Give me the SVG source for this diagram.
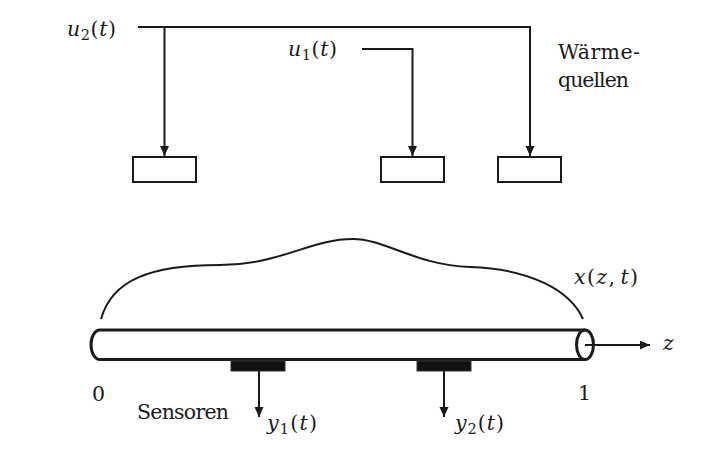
<svg xmlns="http://www.w3.org/2000/svg" width="722" height="452" viewBox="0 0 722 452">
<defs>
<marker id="ah" markerUnits="userSpaceOnUse" markerWidth="11" markerHeight="10" refX="10" refY="4.5" orient="auto">
<path d="M0,0 L10,4.5 L0,9 z" fill="#1a1a1a"/>
</marker>
<style>
.t{font-family:"DejaVu Serif","Liberation Serif",serif;font-size:20.5px;fill:#1a1a1a}
.i{font-style:italic}
.s{font-size:14.5px;font-style:normal}
.r{font-style:normal}
.ln{fill:none;stroke:#1a1a1a;stroke-width:2}
.box{fill:#fff;stroke:#1a1a1a;stroke-width:2}
.rod{fill:none;stroke:#1a1a1a;stroke-width:3}
.sen{fill:#111;stroke:#333;stroke-width:1}
</style>
</defs>
<rect width="722" height="452" fill="#fff"/>
<g id="connectors">
<path class="ln" d="M138,27 H530 V156" marker-end="url(#ah)"/>
<path class="ln" d="M164.5,27 V156" marker-end="url(#ah)"/>
<path class="ln" d="M362,49 H412.5 V156" marker-end="url(#ah)"/>
<path class="ln" d="M585,345 H650" marker-end="url(#ah)"/>
<path class="ln" d="M259,371 V417" marker-end="url(#ah)"/>
<path class="ln" d="M444,371 V417" marker-end="url(#ah)"/>
</g>
<g id="source1"><rect class="box" x="133" y="157" width="63" height="25"/></g>
<g id="source2"><rect class="box" x="381" y="157" width="63" height="25"/></g>
<g id="source3"><rect class="box" x="498" y="157" width="63" height="25"/></g>
<g id="profile">
<path class="ln" d="M101,319 C112,280 150,265 220,265 C280,265 310,239 353,239 C385,239 415,265 470,267 C530,269 570,290 583,319"/>
</g>
<g id="rod">
<path class="rod" d="M100,330 H585 M100,359.5 H585 M100,330 A9,14.75 0 0 0 100,359.5"/>
<ellipse class="rod" cx="585" cy="344.75" rx="8.5" ry="14.75"/>
</g>
<g id="sensor1"><rect class="sen" x="231" y="361" width="54" height="10"/></g>
<g id="sensor2"><rect class="sen" x="417" y="361" width="54" height="10"/></g>
<g id="labels">
<text class="t" x="67" y="36" textLength="49"><tspan class="i">u</tspan><tspan class="s" dy="4">2</tspan><tspan class="r" dy="-4">(</tspan><tspan class="i">t</tspan><tspan class="r">)</tspan></text>
<text class="t" x="288" y="56" textLength="49"><tspan class="i">u</tspan><tspan class="s" dy="4">1</tspan><tspan class="r" dy="-4">(</tspan><tspan class="i">t</tspan><tspan class="r">)</tspan></text>
<text class="t" x="558" y="59" textLength="82">Wärme-</text>
<text class="t" x="558" y="87" textLength="71">quellen</text>
<text class="t" x="574" y="284" textLength="64"><tspan class="i">x</tspan>(<tspan class="i">z</tspan>,<tspan class="i" dx="4">t</tspan>)</text>
<text class="t i" x="663" y="350">z</text>
<text class="t" x="92" y="401">0</text>
<text class="t" x="578" y="400">1</text>
<text class="t" x="137" y="419" textLength="92">Sensoren</text>
<text class="t" x="267" y="430" textLength="50"><tspan class="i">y</tspan><tspan class="s" dy="4">1</tspan><tspan class="r" dy="-4">(</tspan><tspan class="i">t</tspan><tspan class="r">)</tspan></text>
<text class="t" x="455" y="430" textLength="49"><tspan class="i">y</tspan><tspan class="s" dy="4">2</tspan><tspan class="r" dy="-4">(</tspan><tspan class="i">t</tspan><tspan class="r">)</tspan></text>
</g>
</svg>
